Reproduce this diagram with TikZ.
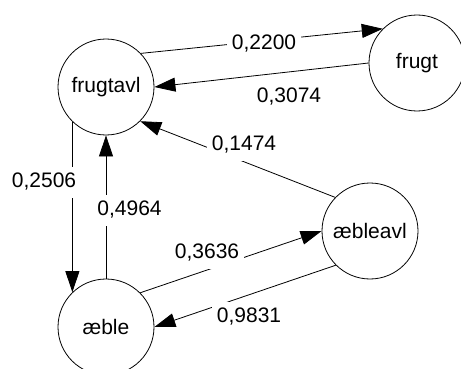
\documentclass[tikz,border=0pt]{standalone}
\usepackage{fontspec}
\setmainfont{Liberation Sans}
\usetikzlibrary{arrows.meta}
\begin{document}
\begin{tikzpicture}[x=1pt,y=-1pt,
  state/.style={draw, circle, minimum size=96pt, inner sep=0pt, line width=0.8pt, font=\fontsize{21}{25}\selectfont},
  arr/.style={line width=0.8pt, -{Triangle[length=21pt,width=14pt]}},
  lbl/.style={fill=white, inner xsep=5pt, inner ysep=6pt, text height=15pt, text depth=4pt, font=\fontsize{21}{25}\selectfont}]
\useasboundingbox (0,0) rectangle (461,369);
\node[state] (frugtavl) at (106,87) {frugtavl};
\node[state] (frugt) at (417,63) {frugt};
\node[state] (aebleavl) at (370,231) {æbleavl};
\node[state] (aeble) at (106,327) {æble};
\draw[arr] (frugtavl.44) -- (frugt.135);
\draw[arr] (frugt.180) -- (frugtavl.0);
\draw[arr] (aebleavl.136) -- (frugtavl.-45);
\draw[arr] (frugtavl.226) -- (aeble.134);
\draw[arr] (aeble.90) -- (frugtavl.270);
\draw[arr] (aeble.45) -- (aebleavl.180);
\draw[arr] (aebleavl.225) -- (aeble.0);
\node[lbl] (l1) at (264,44) {0,2200};
\node[lbl] (l2) at (289,97) {0,3074};
\node[lbl] (l3) at (244,145) {0,1474};
\node[lbl] (l4) at (44,182) {0,2506};
\node[lbl] (l5) at (129.5,210) {0,4964};
\node[lbl] (l6) at (207,253) {0,3636};
\node[lbl] (l7) at (249,317) {0,9831};
\end{tikzpicture}
\end{document}
